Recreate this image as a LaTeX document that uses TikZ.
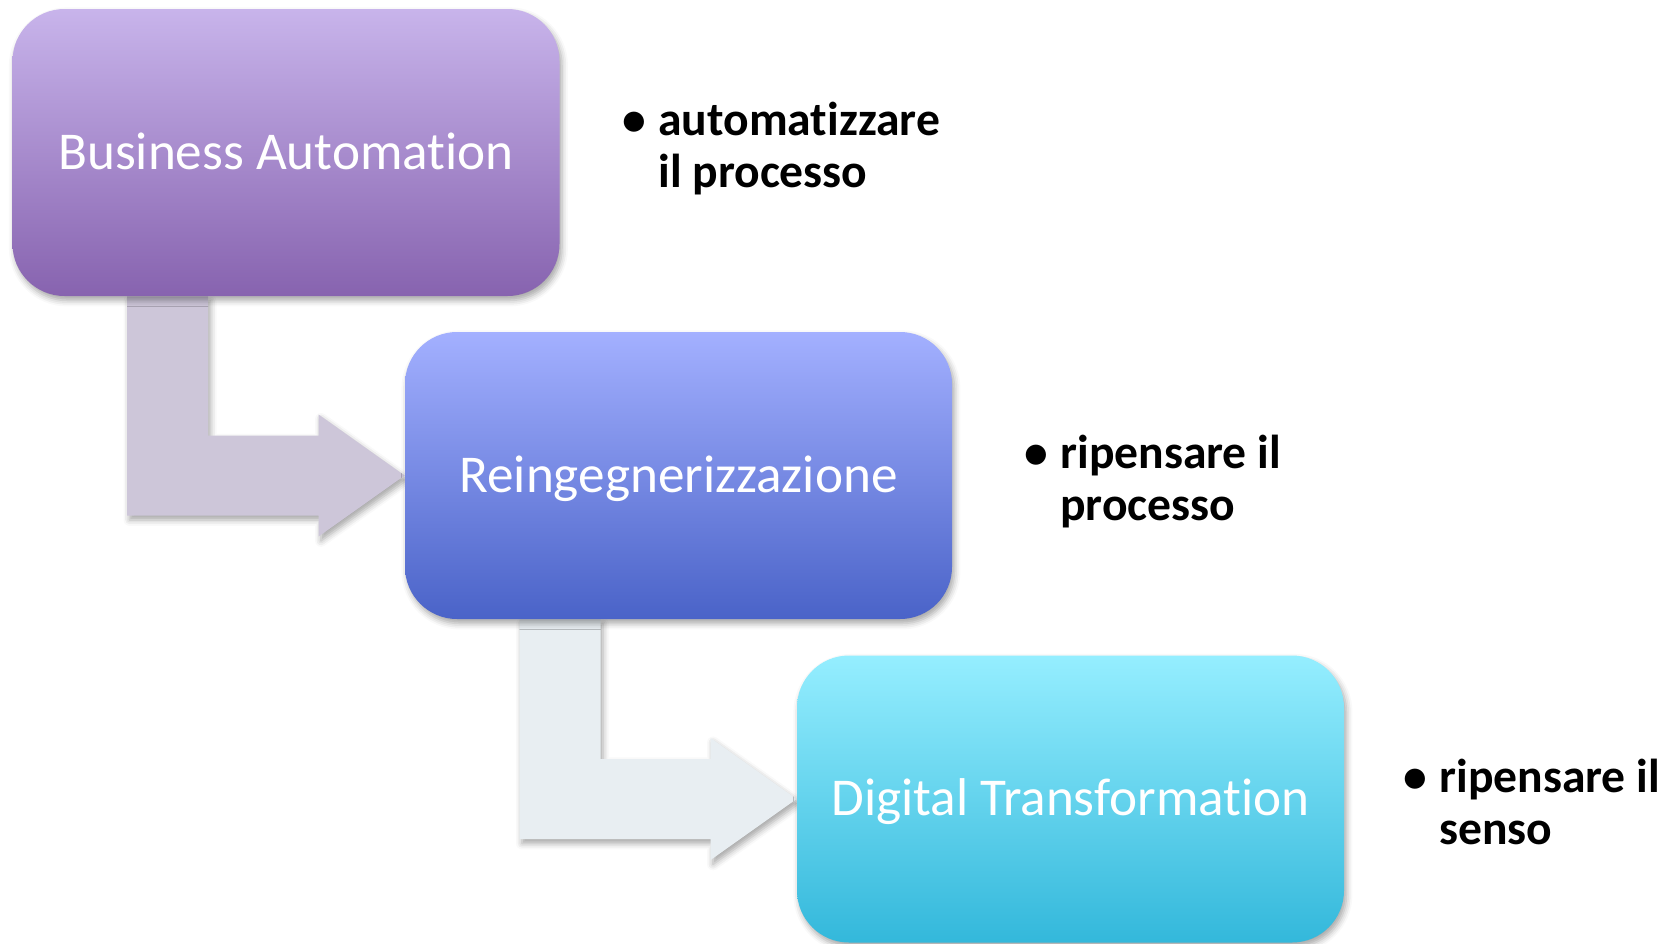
\documentclass[tikz,border=0pt]{standalone}
\usepackage{fontspec}
\setmainfont[Ligatures=NoCommon]{Carlito}
\usetikzlibrary{calc,shadows.blur}
\pgfdeclarelayer{background}
\pgfsetlayers{background,main}
\definecolor{aTop}{HTML}{C8B4EB}
\definecolor{aMid}{HTML}{B9A2DD}
\definecolor{aBot}{HTML}{8763AF}
\definecolor{bTop}{HTML}{A3B0FF}
\definecolor{bMid}{HTML}{8E9BF0}
\definecolor{bBot}{HTML}{4A63C8}
\definecolor{cTop}{HTML}{95EEFF}
\definecolor{cMid}{HTML}{80E2F6}
\definecolor{cBot}{HTML}{33B8DB}
\definecolor{arrA}{HTML}{CDC6D9}
\definecolor{arrB}{HTML}{E8EEF2}
\tikzset{
  boxshadow/.style={blur shadow={shadow xshift=1.2pt,shadow yshift=-2.2pt,shadow blur radius=3pt,shadow opacity=35}},
  stage/.style={rounded corners=26pt, minimum width=273.5pt, minimum height=143.5pt,
    inner sep=0pt, text height=20.6pt, text depth=4pt, text=white,
    font=\fontsize{26.6}{30}\selectfont, boxshadow},
  bulletnote/.style={anchor=base west, inner sep=0pt, align=left,
    font=\bfseries\fontsize{23.8}{26}\selectfont},
  bentarrow/.style={boxshadow}
}
\newcommand{\bulletlines}[2]{\begin{tabular}[t]{@{}l@{}l@{}}\makebox[18pt][l]{\textbullet}&#1\\&#2\end{tabular}}
\begin{document}
\begin{tikzpicture}[x=0.5pt,y=-0.5pt]
\useasboundingbox (0,0) rectangle (1677,943);
\node[stage, top color=aTop, middle color=aMid, bottom color=aBot] (b1) at (286,152.5) {Business Automation};
\node[stage, top color=bTop, middle color=bMid, bottom color=bBot] (b2) at (678.5,475.5) {Reingegnerizzazione};
\node[stage, top color=cTop, middle color=cMid, bottom color=cBot] (b3) at (1070.5,799) {Digital Transformation};
\begin{pgfonlayer}{background}
\fill[arrA, bentarrow] let \p1=(b1.south west), \p2=(b2.west) in
  (\x1+57.5pt,\y1) -- (\x1+98pt,\y1) -- (\x1+98pt,\y2+20pt) -- (\x2-43pt,\y2+20pt)
  -- (\x2-43pt,\y2+30.5pt) -- (\x2,\y2) -- (\x2-43pt,\y2-30.5pt) -- (\x2-43pt,\y2-20pt)
  -- (\x1+57.5pt,\y2-20pt) -- cycle;
\fill[arrB, bentarrow] let \p1=(b2.south west), \p2=(b3.west) in
  (\x1+57.5pt,\y1) -- (\x1+98pt,\y1) -- (\x1+98pt,\y2+20pt) -- (\x2-43pt,\y2+20pt)
  -- (\x2-43pt,\y2+30.5pt) -- (\x2,\y2) -- (\x2-43pt,\y2-30.5pt) -- (\x2-43pt,\y2-20pt)
  -- (\x1+57.5pt,\y2-20pt) -- cycle;
\end{pgfonlayer}
\node[bulletnote] (n1) at (622,135) {\bulletlines{automatizzare}{il processo}};
\node[bulletnote] (n2) at (1024,468) {\bulletlines{ripensare il}{processo}};
\node[bulletnote] (n3) at (1403,792) {\bulletlines{ripensare il}{senso}};
\end{tikzpicture}
\end{document}
